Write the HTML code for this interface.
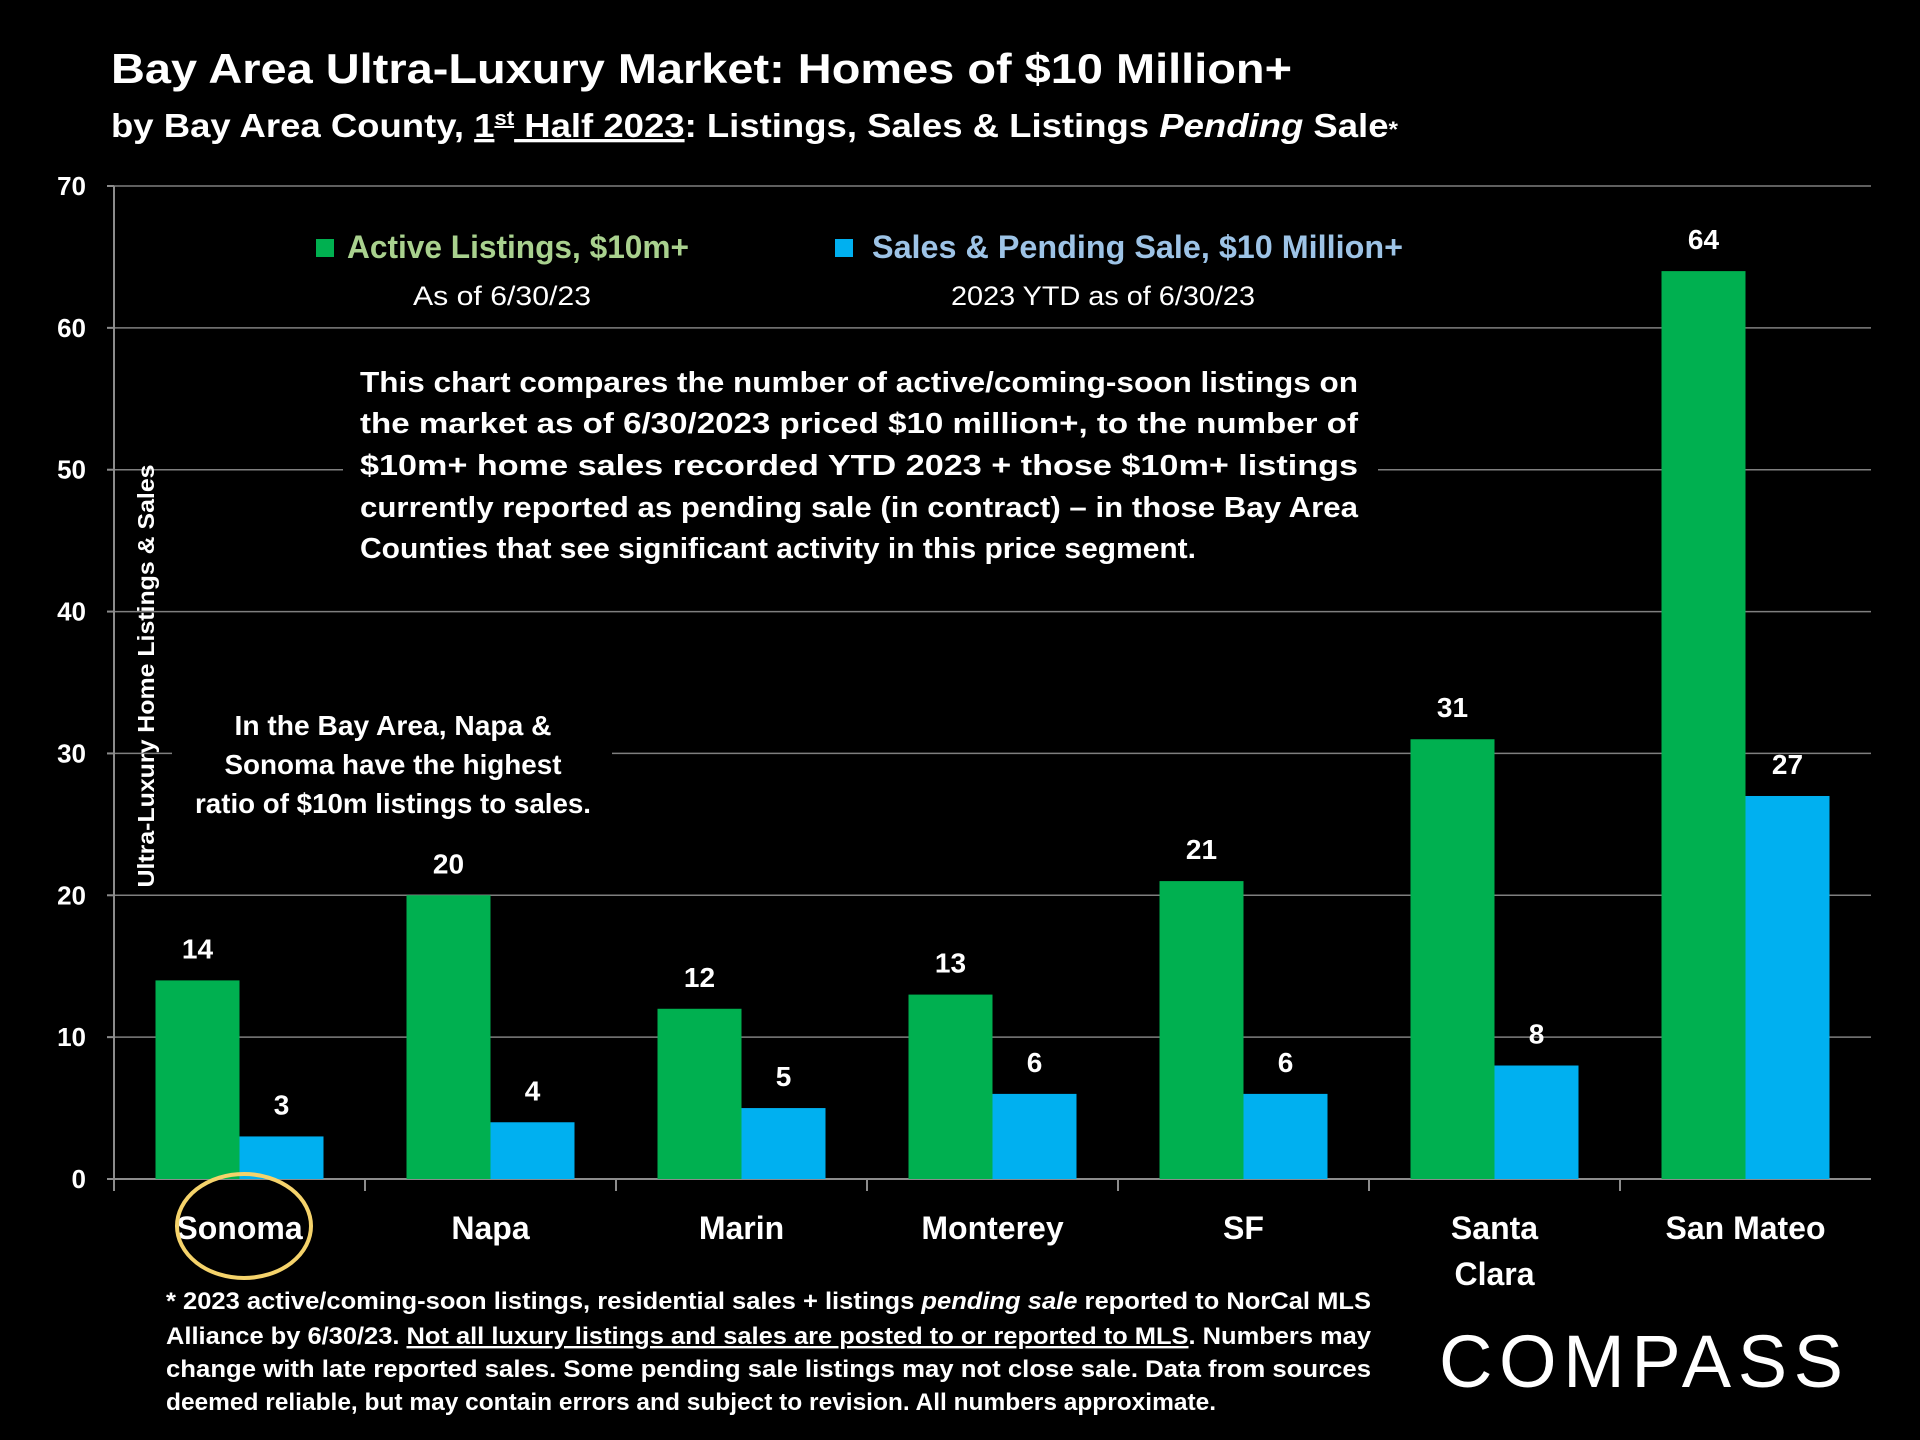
<!DOCTYPE html>
<html><head><meta charset="utf-8"><style>
html,body{margin:0;padding:0;background:#000;}
svg{display:block;}
text{font-family:"Liberation Sans",sans-serif;}
</style></head><body>
<svg id="chart" width="1920" height="1440" viewBox="0 0 1920 1440" xmlns="http://www.w3.org/2000/svg">
<rect width="1920" height="1440" fill="#000"/>
<text x="111" y="83" font-size="42" font-weight="bold" fill="#fff" textLength="1181" lengthAdjust="spacingAndGlyphs">Bay Area Ultra-Luxury Market: Homes of $10 Million+</text>
<text x="111" y="137" font-size="33" font-weight="bold" fill="#fff" textLength="1287" lengthAdjust="spacingAndGlyphs">by Bay Area County, <tspan text-decoration="underline">1<tspan font-size="20" dy="-12">st</tspan><tspan dy="12"> Half 2023</tspan></tspan>:  Listings, Sales &amp; Listings <tspan font-style="italic">Pending</tspan> Sale<tspan font-size="22">*</tspan></text>
<g id="grid"></g>
<g id="axes"></g>
<g id="bars"></g>
<!-- legend -->
<rect x="316" y="239" width="18" height="18" fill="#00b050"/>
<text x="347" y="258" font-size="32" font-weight="bold" fill="#a9d18e" textLength="342" lengthAdjust="spacingAndGlyphs">Active Listings, $10m+</text>
<text x="502" y="305" font-size="27" fill="#fff" text-anchor="middle" textLength="178" lengthAdjust="spacingAndGlyphs">As of 6/30/23</text>
<rect x="835" y="239" width="18" height="18" fill="#00b0f0"/>
<text x="872" y="258" font-size="32" font-weight="bold" fill="#9dc3e6" textLength="531" lengthAdjust="spacingAndGlyphs">Sales &amp; Pending Sale, $10 Million+</text>
<text x="1103" y="305" font-size="27" fill="#fff" text-anchor="middle" textLength="304" lengthAdjust="spacingAndGlyphs">2023 YTD as of 6/30/23</text>
<!-- description -->
<rect x="343" y="355" width="1035" height="215" fill="#000"/>
<g font-size="29" font-weight="bold" fill="#fff">
<text x="360" y="392" textLength="998" lengthAdjust="spacingAndGlyphs">This chart compares the number of active/coming-soon listings on</text>
<text x="360" y="433" textLength="998" lengthAdjust="spacingAndGlyphs">the market as of 6/30/2023 priced $10 million+, to the number of</text>
<text x="360" y="475" textLength="998" lengthAdjust="spacingAndGlyphs">$10m+ home sales recorded YTD 2023 + those $10m+ listings</text>
<text x="360" y="517" textLength="998" lengthAdjust="spacingAndGlyphs">currently reported as pending sale (in contract) – in those Bay Area</text>
<text x="360" y="558" textLength="836" lengthAdjust="spacingAndGlyphs">Counties that see significant activity in this price segment.</text>
</g>
<!-- annotation -->
<rect x="172" y="705" width="440" height="120" fill="#000"/>
<g font-size="28" font-weight="bold" fill="#fff" text-anchor="middle">
<text x="393" y="735" textLength="317" lengthAdjust="spacingAndGlyphs">In the Bay Area, Napa &amp;</text>
<text x="393" y="774" textLength="337" lengthAdjust="spacingAndGlyphs">Sonoma have the highest</text>
<text x="393" y="813" textLength="396" lengthAdjust="spacingAndGlyphs">ratio of $10m listings to sales.</text>
</g>
<text transform="translate(154,676) rotate(-90)" font-size="23" font-weight="bold" fill="#fff" text-anchor="middle" textLength="423" lengthAdjust="spacingAndGlyphs">Ultra-Luxury Home Listings &amp; Sales</text>
<ellipse cx="244" cy="1226" rx="67" ry="52" fill="none" stroke="#f5d36b" stroke-width="4"/>
<!-- footnote -->
<g font-size="24" font-weight="bold" fill="#fff">
<text x="166" y="1309" textLength="1205" lengthAdjust="spacingAndGlyphs">* 2023 active/coming-soon listings, residential sales + listings <tspan font-style="italic">pending sale</tspan> reported to NorCal MLS</text>
<text x="166" y="1344" textLength="1205" lengthAdjust="spacingAndGlyphs">Alliance by 6/30/23. <tspan text-decoration="underline">Not all luxury listings and sales are posted to or reported to MLS</tspan>. Numbers may</text>
<text x="166" y="1377" textLength="1205" lengthAdjust="spacingAndGlyphs">change with late reported sales. Some pending sale listings may not close sale. Data from sources</text>
<text x="166" y="1410" textLength="1050" lengthAdjust="spacingAndGlyphs">deemed reliable, but may contain errors and subject to revision. All numbers approximate.</text>
</g>
<text x="1439" y="1387" font-size="74" fill="#fff" textLength="404" lengthAdjust="spacing">COMPASS</text>
<script>
const categories = [["Sonoma"],["Napa"],["Marin"],["Monterey"],["SF"],["Santa","Clara"],["San Mateo"]];
const activeListings = [14,20,12,13,21,31,64];
const salesPending = [3,4,5,6,6,8,27];
const yTicks = [0,10,20,30,40,50,60,70];
const NS = "http://www.w3.org/2000/svg";
const X0 = 114, X1 = 1871, Y0 = 1179, YTOP = 186, YMAX = 70;
const groupW = (X1 - X0) / categories.length;
const barW = 84;
function y(v){ return Y0 - (v / YMAX) * (Y0 - YTOP); }
function gx(i){ return X0 + i * groupW; }
function mk(tag, attrs, parent){ const e=document.createElementNS(NS,tag); for(const k in attrs) e.setAttribute(k,attrs[k]); parent.appendChild(e); return e; }
const grid = document.getElementById('grid'), axes = document.getElementById('axes'), bars = document.getElementById('bars');
yTicks.forEach(t => {
  if (t > 0) {
    const l = mk('line',{x1:X0,x2:X1,y1:y(t),y2:y(t),stroke:'#7f7f7f','stroke-width':1.5},grid);
    
    
  }
  const tk = mk('line',{x1:X0-7,x2:X0,y1:y(t),y2:y(t),stroke:'#8c8c8c','stroke-width':2},axes);
  
  
  const lb = mk('text',{x:86,y:y(t)+9,'font-size':26,'font-weight':'bold',fill:'#fff','text-anchor':'end'},axes);
  lb.textContent = t;
  
  
});
const ya = mk('line',{x1:X0,x2:X0,y1:YTOP,y2:Y0+12,stroke:'#8c8c8c','stroke-width':2},axes);


const xa = mk('line',{x1:X0-7,x2:X1,y1:Y0,y2:Y0,stroke:'#8c8c8c','stroke-width':2},axes);


categories.forEach((c,i) => {
  if (i > 0) {
    const tk = mk('line',{x1:gx(i),x2:gx(i),y1:Y0,y2:Y0+12,stroke:'#8c8c8c','stroke-width':2},axes);
    
    
  }
  const cx = gx(i) + groupW/2;
  const pairs = [[activeListings[i],'#00b050',cx-barW,'bar-active'],[salesPending[i],'#00b0f0',cx,'bar-sales']];
  pairs.forEach(p => {
    const r = mk('rect',{x:p[2],y:y(p[0]),width:barW,height:Y0-y(p[0]),fill:p[1]},bars);
    
    
    const v = mk('text',{x:p[2]+barW/2,y:y(p[0])-22,'font-size':28,'font-weight':'bold',fill:'#fff','text-anchor':'middle'},bars);
    v.textContent = p[0];
    
    
  });
  c.forEach((line,j) => {
    const t = mk('text',{x:cx,y:1239+j*46,'font-size':32,'font-weight':'bold',fill:'#fff','text-anchor':'middle'},axes);
    t.textContent = line;
    
    
  });
});
</script>
</svg>
</body></html>
